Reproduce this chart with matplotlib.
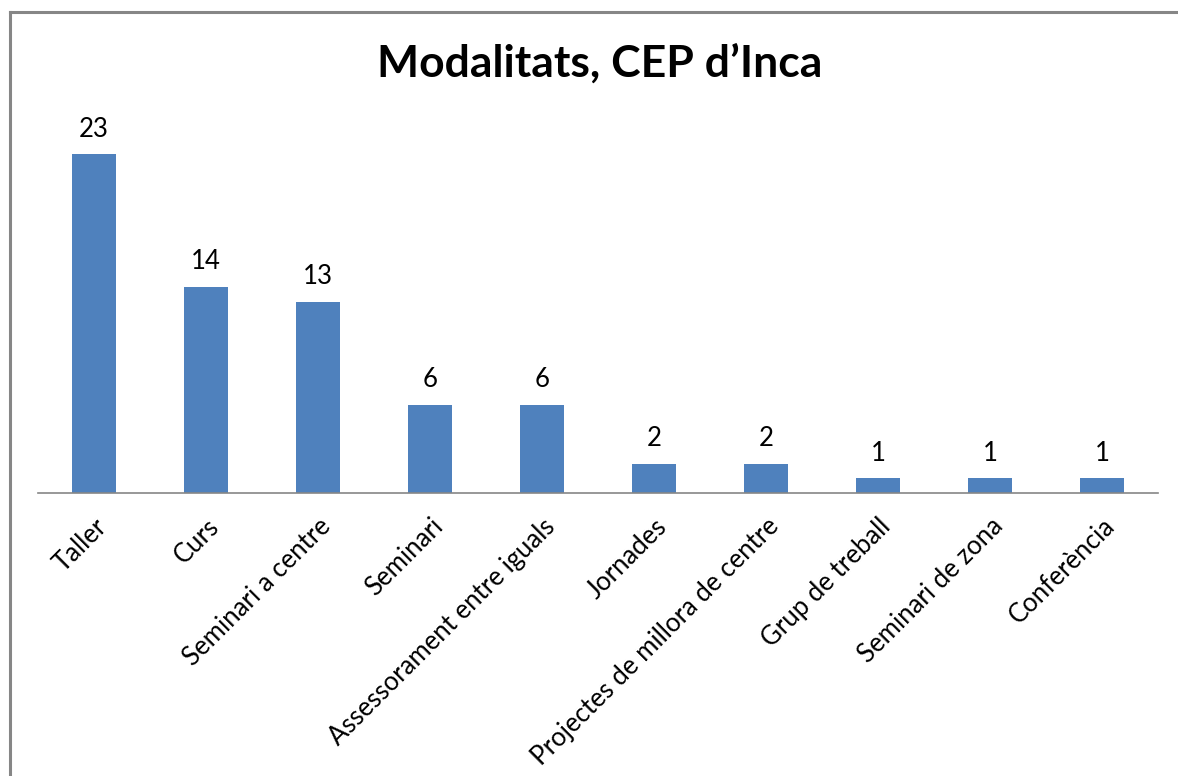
import numpy as np
import matplotlib.pyplot as plt
from matplotlib.lines import Line2D

categories = ["Taller", "Curs", "Seminari a centre", "Seminari",
              "Assessorament entre iguals", "Jornades",
              "Projectes de millora de centre", "Grup de treball",
              "Seminari de zona", "Conferència"]
values = [23, 14, 13, 6, 6, 2, 2, 1, 1, 1]

W, H = 1178, 776


def main():
    plt.rcParams['font.family'] = ['Lato', 'DejaVu Sans']
    fig = plt.figure(figsize=(W / 100, H / 100), dpi=100)
    ax = fig.add_axes([38 / W, 1 - 493 / H, 1120 / W, 368 / H])

    x = np.arange(len(categories))
    bars = ax.bar(x, values, width=0.4, color="#4F81BD")
    ax.set_xlim(-0.5, len(categories) - 0.5)
    ax.set_ylim(0, 25)

    for b, v in zip(bars, values):
        ax.annotate(str(v), (b.get_x() + b.get_width() / 2, v),
                    xytext=(0, 9), textcoords="offset points",
                    ha="center", va="bottom", fontsize=18.5)

    ax.set_xticks(x)
    ax.set_xticklabels(categories, rotation=45, ha="right",
                       rotation_mode="anchor", fontsize=18.5)
    ax.tick_params(axis="x", length=0, pad=15)
    ax.set_yticks([])
    for s in ["top", "right", "left"]:
        ax.spines[s].set_visible(False)
    ax.spines["bottom"].set_color("#868686")
    ax.spines["bottom"].set_linewidth(1.2)

    fig.text(600 / W, 1 - 63 / H, "Modalitats, CEP d\u2019Inca",
             ha="center", va="center", fontsize=32, fontweight="bold")

    # outer chart border (left and top only visible)
    fig.add_artist(Line2D([9.5 / W, 9.5 / W], [0, 1 - 12 / H],
                          transform=fig.transFigure, color="#868686", lw=2.2))
    fig.add_artist(Line2D([9.5 / W, 1], [1 - 12 / H, 1 - 12 / H],
                          transform=fig.transFigure, color="#868686", lw=2.2))

    fig.savefig("out.png", dpi=100)


if __name__ == '__main__':
    main()
